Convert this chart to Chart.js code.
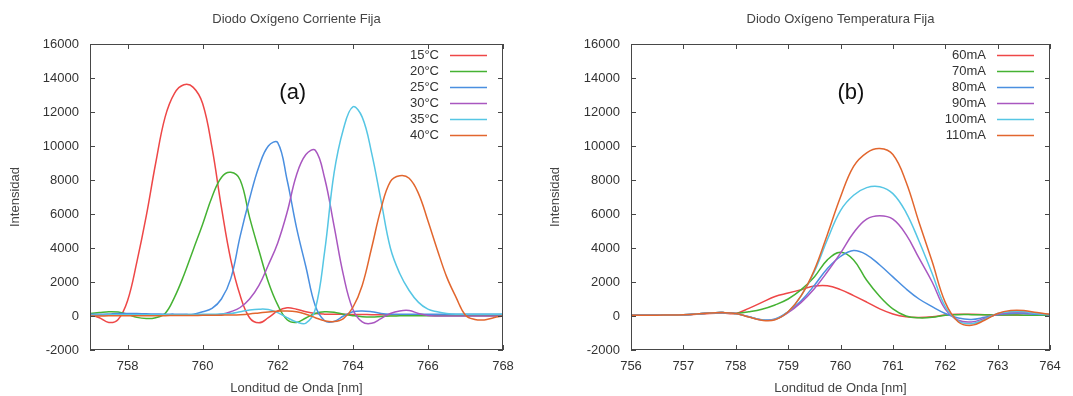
<!DOCTYPE html>
<html>
<head>
<meta charset="utf-8">
<script src="https://cdn.jsdelivr.net/npm/chart.js@4.4.1/dist/chart.umd.min.js"></script>
<style>
    html, body { margin: 0; padding: 0; background: #fff; }
    #wrap { position: relative; width: 1073px; height: 396px; overflow: hidden; }
    #chartA { position: absolute; left: 0; top: 0; }
    #chartB { position: absolute; left: 540px; top: 0; }
</style>
</head>
<body>
<div id="wrap">
    <canvas id="chartA" width="540" height="396"></canvas>
    <canvas id="chartB" width="533" height="396"></canvas>
</div>
<script>
// --- panel (a): fixed current, temperature sweep ---
const waveA = [757, 757.25, 757.5, 757.75, 758, 758.25, 758.5, 758.75, 759, 759.25, 759.5, 759.75,
    760, 760.25, 760.5, 760.75, 761, 761.25, 761.5, 761.75, 762, 762.25, 762.5, 762.75,
    763, 763.25, 763.5, 763.75, 764, 764.25, 764.5, 764.75, 765, 765.25, 765.5, 765.75,
    766, 766.25, 766.5, 766.75, 767, 767.25, 767.5, 767.75, 768];
const labelsA = ['15°C', '20°C', '25°C', '30°C', '35°C', '40°C'];
const int15C = [100, -100, -380, -200, 900, 3200, 5900, 9000, 11700, 13100, 13600, 13450,
    12500, 9900, 6400, 3300, 1200, -100, -400, -100, 300, 480, 400, 250,
    150, 110, 100, 100, 90, 90, 80, 80, 70, 70, 60, 60,
    60, 50, 50, 50, 50, 40, 40, 40, 40];
const int20C = [150, 200, 250, 230, 100, -80, -150, -100, 150, 1100, 2400, 3900,
    5400, 7000, 8150, 8450, 8000, 5800, 3850, 2000, 650, -220, -380, -120,
    150, 250, 220, 100, 20, -40, -60, -30, 0, 10, 20, 20,
    20, 20, 20, 20, 20, 20, 20, 20, 20];
const int25C = [100, 100, 120, 150, 150, 140, 130, 120, 110, 110, 100, 110,
    250, 450, 1000, 2200, 4700, 6900, 8800, 10000, 10200, 8000, 5200, 2900,
    600, -280, -320, 0, 250, 300, 250, 150, 100, 100, 100, 100,
    100, 100, 100, 100, 100, 100, 100, 100, 100];
const int30C = [50, 50, 50, 50, 50, 50, 50, 50, 50, 50, 50, 50,
    50, 50, 100, 250, 500, 1000, 1800, 3000, 4300, 6100, 8300, 9500,
    9750, 8100, 5300, 2400, 400, -350, -430, -150, 150, 300, 320, 150,
    30, 0, 0, 0, 0, 0, 0, 0, 0];
const int35C = [50, 60, 70, 80, 80, 80, 80, 80, 80, 80, 80, 90,
    100, 100, 120, 150, 250, 350, 400, 380, 200, -100, -350, -420,
    400, 3800, 8400, 11000, 12300, 11700, 9600, 6800, 4000, 2500, 1500, 800,
    400, 250, 150, 100, 100, 100, 100, 100, 100];
const int40C = [0, 0, 10, 10, 10, 20, 20, 20, 20, 30, 30, 30,
    40, 40, 50, 60, 80, 120, 180, 240, 280, 300, 250, 100,
    -100, -280, -330, -150, 500, 1800, 4000, 6300, 7900, 8250, 8100, 7200,
    5600, 3900, 2300, 1100, 50, -200, -230, -100, 0];
const xTicksA = [758, 760, 762, 764, 766, 768];

// --- panel (b): fixed temperature, current sweep ---
const waveB = [756, 756.25, 756.5, 756.75, 757, 757.25, 757.5, 757.75, 758, 758.25, 758.5, 758.75,
    759, 759.25, 759.5, 759.75, 760, 760.25, 760.5, 760.75, 761, 761.25, 761.5, 761.75,
    762, 762.25, 762.5, 762.75, 763, 763.25, 763.5, 763.75, 764];
const labelsB = ['60mA', '70mA', '80mA', '90mA', '100mA', '110mA'];
const int60mA = [50, 50, 50, 50, 60, 100, 150, 170, 150, 450, 800, 1150,
    1350, 1550, 1760, 1780, 1550, 1200, 820, 420, 120, -50, -90, -50,
    60, 100, 100, 80, 60, 60, 50, 50, 40];
const int70mA = [50, 50, 50, 60, 80, 120, 180, 200, 150, 250, 400, 650,
    1000, 1550, 2300, 3300, 3750, 3300, 2100, 1150, 420, 0, -110, -80,
    50, 80, 80, 70, 60, 60, 50, 50, 50];
const int80mA = [50, 50, 50, 60, 80, 120, 180, 200, 150, -50, -220, -180,
    250, 900, 1800, 2800, 3500, 3850, 3600, 3000, 2300, 1600, 1000, 550,
    150, -120, -200, -80, 80, 150, 150, 100, 80];
const int90mA = [50, 50, 50, 60, 80, 120, 180, 200, 150, -50, -230, -200,
    200, 800, 1600, 2600, 3700, 4900, 5700, 5900, 5700, 4800, 3400, 2000,
    400, -250, -350, -150, 100, 200, 200, 150, 80];
const int100mA = [50, 50, 50, 60, 80, 120, 180, 200, 150, -50, -230, -200,
    250, 1200, 2600, 4500, 6200, 7100, 7550, 7600, 7200, 6100, 4400, 2500,
    550, -300, -450, -200, 150, 250, 250, 150, 80];
const int110mA = [50, 50, 50, 60, 80, 120, 180, 200, 150, -60, -250, -220,
    250, 1200, 2700, 4800, 7000, 8800, 9600, 9850, 9500, 7900, 5500, 3200,
    800, -350, -550, -250, 150, 320, 320, 200, 100];
const xTicksB = [756, 757, 758, 759, 760, 761, 762, 763, 764];

const yTicks = [-2000, 0, 2000, 4000, 6000, 8000, 10000, 12000, 14000, 16000];
const seriesColors = ['#ee4747', '#45b233', '#4a8fe0', '#a957c0', '#56c6e4', '#e2662e'];

const FONT = '"Liberation Sans", Arial, sans-serif';
Chart.defaults.font.family = FONT;
Chart.defaults.color = '#333';

const gnuFrame = {
    id: 'gnuFrame',
    afterDraw(chart, args, opts) {
        const { ctx, chartArea: a, scales } = chart;
        ctx.save();

        // plot title, centred over the plot box
        ctx.font = `13px ${FONT}`;
        ctx.fillStyle = '#444';
        ctx.textAlign = 'center';
        ctx.textBaseline = 'middle';
        ctx.fillText(opts.title, (a.left + a.right) / 2, 19);

        ctx.strokeStyle = '#474747';
        ctx.lineWidth = 1;
        ctx.strokeRect(a.left + 0.5, a.top + 0.5, a.width - 1, a.height - 1);

        const len = 5;
        ctx.beginPath();
        scales.x.ticks.forEach((t) => {
            const px = Math.round(scales.x.getPixelForValue(t.value)) + 0.5;
            ctx.moveTo(px, a.bottom);
            ctx.lineTo(px, a.bottom - len);
            ctx.moveTo(px, a.top);
            ctx.lineTo(px, a.top + len);
        });
        scales.y.ticks.forEach((t) => {
            const py = Math.round(scales.y.getPixelForValue(t.value)) + 0.5;
            ctx.moveTo(a.left, py);
            ctx.lineTo(a.left + len, py);
            ctx.moveTo(a.right, py);
            ctx.lineTo(a.right - len, py);
        });
        ctx.stroke();

        // legend, gnuplot style: text right-aligned, sample line after it
        ctx.font = `13px ${FONT}`;
        ctx.textAlign = 'right';
        chart.data.datasets.forEach((ds, i) => {
            const y = a.top + 11 + i * 16;
            ctx.fillStyle = '#333';
            ctx.fillText(ds.label, a.right - 64, y);
            ctx.strokeStyle = ds.borderColor;
            ctx.lineWidth = 1.5;
            ctx.beginPath();
            ctx.moveTo(a.right - 53, y + 0.5);
            ctx.lineTo(a.right - 16, y + 0.5);
            ctx.stroke();
        });

        // panel tag
        ctx.font = `22px ${FONT}`;
        ctx.textAlign = 'center';
        ctx.fillStyle = '#111';
        ctx.fillText(opts.tag, scales.x.getPixelForValue(opts.tagX), scales.y.getPixelForValue(opts.tagY));
        ctx.restore();
    },
};

const buildChart = (id, cfg) => new Chart(document.getElementById(id), {
    type: 'line',
    data: {
        datasets: cfg.series.map((vals, i) => ({
            label: cfg.labels[i],
            data: vals.map((y, j) => ({ x: cfg.wave[j], y })),
            borderColor: seriesColors[i],
            borderWidth: 1.5,
            pointRadius: 0,
            tension: 0.4,
            fill: false,
            order: -i,
        })),
    },
    options: {
        responsive: false,
        animation: false,
        events: [],
        layout: { padding: { left: 0, right: cfg.padRight, top: 44, bottom: 0 } },
        plugins: {
            legend: { display: false },
            tooltip: { enabled: false },
            title: { display: false },
            gnuFrame: { title: cfg.title, tag: cfg.tag, tagX: cfg.tagX, tagY: 13100 },
        },
        scales: {
            x: {
                type: 'linear',
                min: cfg.xMin,
                max: cfg.xMax,
                afterBuildTicks: (scale) => { scale.ticks = cfg.xTicks.map((v) => ({ value: v })); },
                afterFit: (scale) => { scale.height = 46; },
                grid: { display: false, drawTicks: false },
                border: { display: false },
                ticks: { font: { size: 13 }, color: '#333', padding: 9, maxRotation: 0, callback: (v) => String(v) },
                title: {
                    display: true,
                    text: 'Londitud de Onda [nm]',
                    color: '#444',
                    font: { size: 13 },
                    padding: { top: 0, bottom: 0 },
                },
            },
            y: {
                min: -2000,
                max: 16000,
                afterBuildTicks: (scale) => { scale.ticks = yTicks.map((v) => ({ value: v })); },
                afterFit: (scale) => { scale.width = cfg.yWidth; },
                grid: { display: false, drawTicks: false },
                border: { display: false },
                ticks: { font: { size: 13 }, color: '#333', padding: 11, callback: (v) => String(v) },
                title: {
                    display: true,
                    text: 'Intensidad',
                    color: '#444',
                    font: { size: 13 },
                    padding: { top: 8, bottom: 0 },
                },
            },
        },
    },
    plugins: [gnuFrame],
});

buildChart('chartA', {
    wave: waveA,
    labels: labelsA,
    series: [int15C, int20C, int25C, int30C, int35C, int40C],
    title: 'Diodo Oxígeno Corriente Fija',
    xMin: 757,
    xMax: 768,
    xTicks: xTicksA,
    yWidth: 90,
    padRight: 37,
    tag: '(a)',
    tagX: 762.4,
});

buildChart('chartB', {
    wave: waveB,
    labels: labelsB,
    series: [int60mA, int70mA, int80mA, int90mA, int100mA, int110mA],
    title: 'Diodo Oxígeno Temperatura Fija',
    xMin: 756,
    xMax: 764,
    xTicks: xTicksB,
    yWidth: 91,
    padRight: 23,
    tag: '(b)',
    tagX: 760.2,
});
</script>
</body>
</html>
